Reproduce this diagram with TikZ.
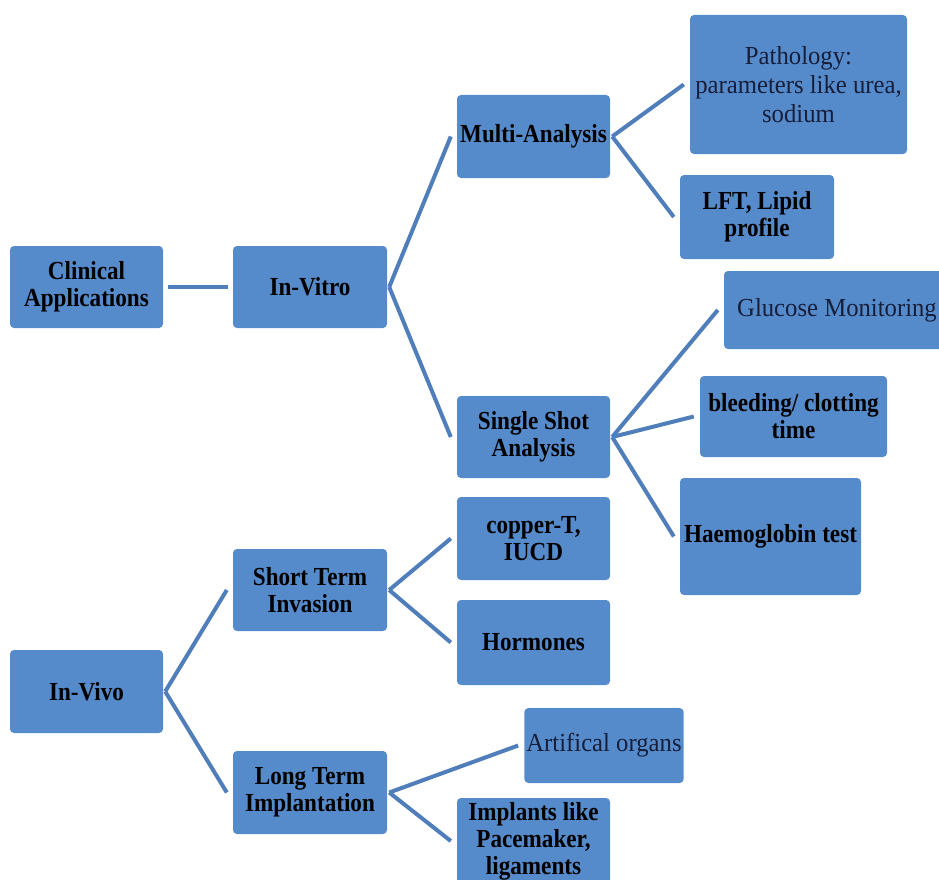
\documentclass[tikz,border=0pt]{standalone}
\usepackage{fontspec}
\newfontfamily\boldlab[FakeStretch=0.89]{Liberation Serif}
\newfontfamily\plainlab[FakeStretch=0.95]{Liberation Serif}
\definecolor{boxblue}{RGB}{86,139,203}
\definecolor{linkblue}{RGB}{79,126,186}
\definecolor{plaintext}{RGB}{22,30,58}
\tikzset{
  box/.style={rectangle, rounded corners=4pt, fill=boxblue, draw=none,
    align=center, inner sep=2pt, anchor=center},
  strong/.style={box, font=\boldlab\bfseries\fontsize{26}{27}\selectfont, text=black},
  plain/.style={box, font=\plainlab\fontsize{26}{29}\selectfont, text=plaintext},
  link/.style={draw=linkblue, line width=4pt}
}
\newcommand{\branch}[2]{\draw[link] ([xshift=2pt]#1.east) -- ([xshift=-6pt]#2.west);}
\begin{document}
\begin{tikzpicture}[x=1pt, y=-1pt]
\clip (0,0) rectangle (939,880);
\useasboundingbox (0,0) rectangle (939,880);

% root level
\node[strong, minimum width=153, minimum height=82] (clin) at (86.5,287) {Clinical\\Applications};
\node[strong, minimum width=153, minimum height=83] (vivo) at (86.5,691.5) {In-Vivo};

% second level
\node[strong, minimum width=154, minimum height=82] (vitro) at (310,287) {In-Vitro};
\node[strong, minimum width=154, minimum height=82] (short) at (310,590) {Short Term\\Invasion};
\node[strong, minimum width=154, minimum height=83] (long) at (310,792.5) {Long Term\\Implantation};

% third level
\node[strong, minimum width=153, minimum height=83] (multi) at (533.5,136.5) {Multi-Analysis};
\node[strong, minimum width=153, minimum height=82] (single) at (533.5,437) {Single Shot\\Analysis};
\node[strong, minimum width=153, minimum height=83] (copper) at (533.5,538.5) {copper-T,\\IUCD};
\node[strong, minimum width=153, minimum height=85] (horm) at (533.5,642.5) {Hormones};
\node[plain, minimum width=158, minimum height=75] (artif) at (604,745.5) {Artifical organs};
\node[strong, minimum width=153, minimum height=86] (impl) at (533.5,841) {Implants like\\Pacemaker,\\ligaments};

% fourth level
\node[plain, minimum width=217, minimum height=139] (path) at (798.5,84.5) {Pathology:\\parameters like urea,\\sodium};
\node[strong, minimum width=154, minimum height=84] (lft) at (757,217) {LFT, Lipid\\profile};
\node[plain, minimum width=226, minimum height=78] (gluc) at (837,310) {Glucose Monitoring};
\node[strong, minimum width=187, minimum height=81] (bleed) at (793.5,416.5) {bleeding/ clotting\\time};
\node[strong, minimum width=181, minimum height=117] (haemo) at (770.5,536.5) {Haemoglobin test};

% connectors
\draw[link] ([xshift=5pt]clin.east) -- ([xshift=-5pt]vitro.west);
\branch{vitro}{multi}
\branch{vitro}{single}
\branch{multi}{path}
\branch{multi}{lft}
\branch{single}{gluc}
\branch{single}{bleed}
\branch{single}{haemo}
\branch{vivo}{short}
\branch{vivo}{long}
\branch{short}{copper}
\branch{short}{horm}
\branch{long}{artif}
\branch{long}{impl}
\end{tikzpicture}
\end{document}
